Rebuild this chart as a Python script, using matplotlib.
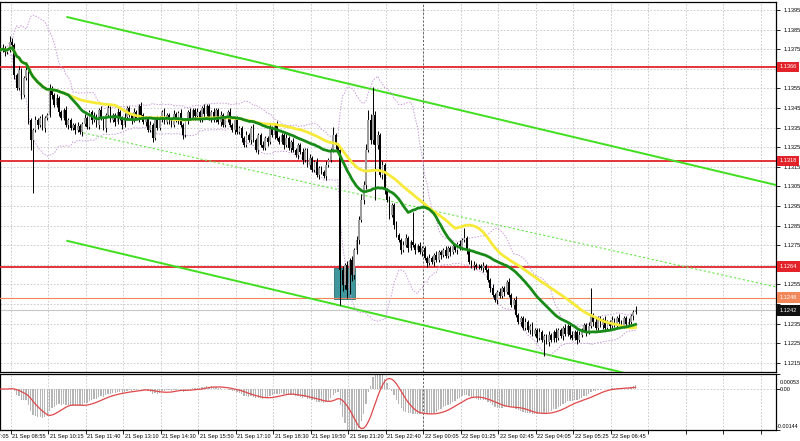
import matplotlib.pyplot as plt
import matplotlib.transforms as mtransforms
from matplotlib.patches import Rectangle
import numpy as np
import pandas as pd

plt.rcParams["font.family"] = ["Liberation Sans", "DejaVu Sans"]

# M5 closes
close = [
    1.13746, 1.13756, 1.13736, 1.13746, 1.13787, 1.13772, 1.13619, 1.13552, 1.13644, 1.13517, 1.13603, 1.13644, 1.13389, 1.13287, 1.13338, 1.13389,
    1.13364, 1.13399, 1.13348, 1.13399, 1.13415, 1.13552, 1.13517, 1.13466, 1.13501, 1.13430, 1.13399, 1.13440, 1.13364, 1.13389, 1.13348, 1.13364,
    1.13338, 1.13358, 1.13328, 1.13369, 1.13399, 1.13353, 1.13430, 1.13389, 1.13409, 1.13364, 1.13440, 1.13399, 1.13348, 1.13415, 1.13450, 1.13389,
    1.13415, 1.13379, 1.13430, 1.13399, 1.13364, 1.13405, 1.13450, 1.13415, 1.13389, 1.13430, 1.13399, 1.13460, 1.13415, 1.13379, 1.13399, 1.13338,
    1.13364, 1.13297, 1.13389, 1.13348, 1.13399, 1.13430, 1.13379, 1.13415, 1.13389, 1.13364, 1.13420, 1.13389, 1.13425, 1.13364, 1.13313, 1.13389,
    1.13430, 1.13399, 1.13440, 1.13409, 1.13430, 1.13389, 1.13450, 1.13420, 1.13460, 1.13399, 1.13430, 1.13389, 1.13440, 1.13379, 1.13415, 1.13364,
    1.13399, 1.13430, 1.13364, 1.13338, 1.13389, 1.13328, 1.13348, 1.13297, 1.13262, 1.13313, 1.13287, 1.13348, 1.13287, 1.13236, 1.13313, 1.13262,
    1.13246, 1.13297, 1.13277, 1.13348, 1.13313, 1.13364, 1.13297, 1.13277, 1.13313, 1.13262, 1.13297, 1.13246, 1.13277, 1.13236, 1.13211, 1.13262,
    1.13226, 1.13185, 1.13236, 1.13160, 1.13195, 1.13134, 1.13175, 1.13109, 1.13144, 1.13124, 1.13103, 1.13160, 1.13185, 1.13236, 1.13313, 1.13262,
    1.13236, 1.12624, 1.12548, 1.12650, 1.12522, 1.12675, 1.12599, 1.12726, 1.12777, 1.12879, 1.12981, 1.13058, 1.13236, 1.13389, 1.13287, 1.13415,
    1.13262, 1.13313, 1.13109, 1.13160, 1.13032, 1.12981, 1.12905, 1.12956, 1.12853, 1.12803, 1.12777, 1.12726, 1.12752, 1.12787, 1.12736, 1.12767,
    1.12752, 1.12726, 1.12746, 1.12716, 1.12736, 1.12685, 1.12660, 1.12685, 1.12665, 1.12701, 1.12675, 1.12716, 1.12701, 1.12726, 1.12695, 1.12736,
    1.12716, 1.12746, 1.12726, 1.12757, 1.12736, 1.12777, 1.12787, 1.12726, 1.12665, 1.12644, 1.12650, 1.12639, 1.12644, 1.12634, 1.12644, 1.12624,
    1.12573, 1.12532, 1.12496, 1.12471, 1.12512, 1.12491, 1.12532, 1.12512, 1.12563, 1.12496, 1.12445, 1.12471, 1.12394, 1.12359, 1.12379, 1.12328,
    1.12359, 1.12318, 1.12338, 1.12298, 1.12318, 1.12277, 1.12308, 1.12267, 1.12287, 1.12257, 1.12293, 1.12267, 1.12308, 1.12277, 1.12318, 1.12287,
    1.12328, 1.12298, 1.12338, 1.12293, 1.12277, 1.12308, 1.12267, 1.12293, 1.12318, 1.12344, 1.12308, 1.12338, 1.12394, 1.12359, 1.12328, 1.12379,
    1.12344, 1.12369, 1.12328, 1.12359, 1.12338, 1.12369, 1.12344, 1.12379, 1.12359, 1.12338, 1.12379, 1.12349, 1.12359, 1.12389, 1.12410, 1.12420,
]
first_open = 1.13740

# wick lengths in pips above / below the body
wick_up = [
    1, 2, 1, 1, 3, 2, 1, 1, 2, 1, 1, 2, 1, 1, 1, 2,
    1, 1, 2, 1, 1, 2, 1, 1, 2, 1, 1, 1, 2, 1, 1, 1,
    1, 2, 1, 1, 2, 1, 1, 1, 2, 1, 1, 2, 1, 1, 2, 1,
    1, 1, 2, 1, 1, 2, 1, 1, 1, 2, 1, 1, 2, 1, 1, 1,
    2, 1, 1, 2, 1, 1, 2, 1, 1, 1, 2, 1, 1, 2, 1, 1,
    1, 2, 1, 1, 2, 1, 1, 2, 1, 1, 1, 2, 1, 1, 2, 1,
    1, 1, 2, 1, 1, 2, 1, 1, 1, 2, 1, 1, 2, 1, 1, 1,
    2, 1, 1, 2, 1, 1, 2, 1, 1, 1, 2, 1, 1, 2, 1, 1,
    1, 2, 1, 1, 2, 1, 1, 2, 1, 1, 1, 2, 1, 1, 4, 1,
    1, 2, 2, 1, 2, 1, 2, 1, 2, 2, 3, 2, 3, 5, 3, 14,
    2, 2, 1, 2, 1, 1, 2, 1, 1, 2, 1, 1, 2, 2, 1, 1,
    15, 1, 1, 2, 1, 1, 1, 2, 1, 1, 2, 1, 1, 1, 2, 1,
    1, 2, 1, 1, 2, 1, 5, 1, 1, 1, 2, 1, 1, 1, 2, 1,
    1, 1, 2, 1, 1, 2, 1, 1, 1, 2, 1, 1, 2, 1, 1, 1,
    2, 1, 1, 2, 1, 1, 2, 1, 1, 1, 2, 1, 1, 2, 1, 1,
    1, 2, 1, 1, 2, 1, 1, 2, 1, 1, 1, 2, 14, 1, 2, 1,
    1, 1, 2, 1, 1, 2, 1, 1, 2, 1, 1, 1, 2, 1, 1, 2,
]
wick_dn = [
    1, 1, 2, 1, 1, 1, 2, 1, 1, 2, 1, 1, 2, 5, 27, 1,
    2, 1, 1, 2, 1, 1, 2, 1, 1, 2, 1, 1, 1, 2, 1, 1,
    2, 1, 1, 2, 1, 1, 1, 2, 1, 1, 2, 1, 1, 2, 1, 1,
    1, 2, 1, 1, 2, 1, 1, 1, 2, 1, 1, 2, 1, 1, 2, 1,
    1, 2, 1, 1, 1, 2, 1, 1, 2, 1, 1, 1, 2, 1, 2, 1,
    2, 1, 1, 2, 1, 1, 1, 2, 1, 1, 2, 1, 1, 1, 2, 1,
    1, 2, 1, 1, 2, 1, 1, 2, 1, 1, 1, 2, 1, 1, 2, 1,
    1, 1, 2, 1, 1, 2, 1, 1, 1, 2, 1, 1, 2, 1, 1, 2,
    1, 2, 1, 1, 2, 1, 1, 1, 2, 1, 1, 2, 1, 1, 1, 2,
    1, 18, 3, 2, 4, 2, 3, 2, 2, 2, 1, 2, 2, 1, 2, 2,
    28, 2, 1, 2, 2, 1, 2, 1, 2, 1, 1, 2, 1, 1, 2, 1,
    1, 2, 1, 1, 2, 1, 2, 1, 1, 2, 1, 1, 2, 1, 1, 1,
    2, 1, 1, 2, 1, 1, 1, 2, 1, 1, 2, 1, 1, 1, 2, 1,
    1, 2, 1, 1, 2, 1, 1, 2, 1, 1, 1, 2, 1, 1, 2, 1,
    1, 1, 2, 1, 1, 2, 1, 1, 8, 1, 2, 1, 1, 2, 1, 1,
    2, 1, 1, 2, 1, 1, 2, 1, 1, 1, 2, 1, 1, 2, 1, 1,
    1, 2, 1, 1, 2, 1, 1, 2, 1, 1, 1, 2, 1, 1, 2, 1,
]

time_labels = ["21 Sep 07:05", "21 Sep 08:55", "21 Sep 10:15", "21 Sep 11:40", "21 Sep 13:10",
               "21 Sep 14:30", "21 Sep 15:50", "21 Sep 17:10", "21 Sep 18:30", "21 Sep 19:50",
               "21 Sep 21:20", "21 Sep 22:40", "22 Sep 00:05", "22 Sep 01:25", "22 Sep 02:45",
               "22 Sep 04:05", "22 Sep 05:25", "22 Sep 06:45"]

red_levels = [1.1366, 1.1318, 1.1264]
orange_level = 1.1248
last_price = 1.1242
macd_max, macd_min = 0.00053, -0.00144

# channel drawn on the chart (bar index, price)
chan_x = [28.6, 331.0]
chan_upper = [1.13914, 1.13057]
chan_lower = [1.12772, 1.11915]
mid_x = [35.4, 331.0]
mid_line = [1.13323, 1.12537]
box_x = [142.5, 151.5]
box_y = [1.12476, 1.12634]

df = pd.DataFrame({"close": close, "up": wick_up, "dn": wick_dn})
df["open"] = df["close"].shift(1).fillna(first_open)
pip = 0.0001
df["high"] = df[["open", "close"]].max(axis=1) + df["up"] * pip
df["low"] = df[["open", "close"]].min(axis=1) - df["dn"] * pip
idx = np.arange(len(df))

ma30 = df["close"].rolling(30, min_periods=1).mean()
ma50 = df["close"].rolling(50, min_periods=1).mean()
bb_mid = df["close"].rolling(20, min_periods=3).mean()
bb_sd = df["close"].rolling(20, min_periods=3).std(ddof=0)
macd = df["close"].ewm(span=12, adjust=False).mean() - df["close"].ewm(span=26, adjust=False).mean()
signal = macd.rolling(9, min_periods=1).mean()

W, H = 800, 441
fig = plt.figure(figsize=(8, 4.41), dpi=100)
right = 775.5 / W
ax = fig.add_axes([0, 1 - 372 / H, right, 370 / H])
ax2 = fig.add_axes([0, 1 - 430 / H, right, 56 / H])

xlim = (-0.13, 330.7)
grid_pos = np.arange(4.5, 331, 16)
gcol = "#c4c4c4"
fs = 4.1

# main panel
ax.set_xlim(*xlim)
ax.set_ylim(1.12103, 1.13991)
ax.set_axisbelow(True)
ax.set_xticks(grid_pos)
ax.tick_params(axis="x", length=0, labelbottom=False)
price_ticks = np.round(np.arange(1.1215, 1.1396, 0.001), 4)
hidden = [1.1365, 1.1265, 1.1245]
ax.yaxis.tick_right()
ax.set_yticks(price_ticks)
ax.set_yticklabels(["" if p in hidden else f"{p:.4f}" for p in price_ticks])
ax.tick_params(axis="y", direction="out", length=3, width=0.6, labelsize=fs, pad=2.5)
ax.grid(True, color=gcol, ls=(0, (2, 2)), lw=0.6)
for s in ax.spines.values():
    s.set_linewidth(0.9)

ax.add_patch(Rectangle((box_x[0], box_y[0]), box_x[1] - box_x[0], box_y[1] - box_y[0],
                       fc="#3f979d", ec="#2c6f74", lw=0.6, zorder=2))

for lv in red_levels:
    ax.axhline(lv, color="#e3232a", lw=1.3, zorder=3)
ax.axhline(orange_level, color="#f2875a", lw=0.8, zorder=3)
ax.axhline(last_price, color="#c8c8c8", lw=0.8, zorder=2)

ax.plot(chan_x, chan_upper, color="#3fdf1e", lw=1.4, zorder=3)
ax.plot(chan_x, chan_lower, color="#3fdf1e", lw=1.4, zorder=3)
ax.plot(mid_x, mid_line, color="#66e84a", lw=0.8, ls=(0, (2, 2)), zorder=3)

ax.plot(idx, bb_mid + 2 * bb_sd, color="#c89bd8", lw=0.7, ls=(0, (1.5, 1.5)), zorder=3)
ax.plot(idx, bb_mid - 2 * bb_sd, color="#c89bd8", lw=0.7, ls=(0, (1.5, 1.5)), zorder=3)

o = df["open"].values
c = df["close"].values
ax.vlines(idx, df["low"], df["high"], color="black", lw=0.7, zorder=4)
body_col = np.where(c >= o, "#9c9c9c", "#000000")
ax.bar(idx, np.maximum(np.abs(c - o), 0.00003), bottom=np.minimum(o, c), width=0.75,
       color=body_col, edgecolor="none", zorder=5)

ax.plot(idx, ma50, color="#f7ea38", lw=2.0, zorder=6)
ax.plot(idx, ma30, color="#178a17", lw=2.0, zorder=6)

bt = mtransforms.blended_transform_factory(ax.transAxes, ax.transData)
box = dict(boxstyle="square,pad=0.5", ec="none")
for lv in red_levels:
    ax.text(1.005, lv, f"{lv:.4f}", transform=bt, color="white", fontsize=fs, va="center", ha="left",
            bbox=dict(box, fc="#e3232a"), clip_on=False, zorder=10)
ax.text(1.005, orange_level + 0.00003, f"{orange_level:.4f}", transform=bt, color="white", fontsize=fs,
        va="center", ha="left", bbox=dict(box, fc="#f2875a"), clip_on=False, zorder=10)
ax.text(1.005, last_price - 0.00003, f"{last_price:.4f}", transform=bt, color="white", fontsize=fs,
        va="center", ha="left", bbox=dict(box, fc="#111111"), clip_on=False, zorder=11)

# MACD panel
ax2.set_xlim(*xlim)
ax2.set_ylim(macd_min, macd_max)
ax2.set_axisbelow(True)
ax2.set_xticks(grid_pos)
ax2.tick_params(axis="x", direction="out", length=3, width=0.6, labelbottom=False)
ax2.yaxis.tick_right()
ax2.set_yticks([macd_max, 0.0, macd_min])
ax2.set_yticklabels([])
ax2.tick_params(axis="y", direction="out", length=3, width=0.6)
ax2.grid(True, axis="x", color=gcol, ls=(0, (2, 2)), lw=0.6)
ax2.axhline(0, color=gcol, ls=(0, (2, 2)), lw=0.6, zorder=0)
for s in ax2.spines.values():
    s.set_linewidth(0.9)
ax2.bar(idx, macd, width=0.55, color="#b5b5b5", zorder=2)
ax2.plot(idx, signal, color="#e0484a", lw=0.9, zorder=3)

bt2 = mtransforms.blended_transform_factory(ax2.transAxes, ax2.transData)
for val, txt, dy, x0 in [(macd_max, "0.00053", -6.0, 1.005), (0.0, "0.00", 0.0, 1.005),
                         (macd_min, "-0.00144", 2.5, 1.001)]:
    tr = mtransforms.offset_copy(bt2, fig=fig, x=0, y=dy, units="points")
    ax2.text(x0, val, txt, transform=tr, fontsize=3.9, va="center", ha="left", clip_on=False)

for a in (ax, ax2):
    a.axvline(grid_pos[11], color="#606060", lw=0.7, ls=(0, (2, 2)), zorder=1)

tb = mtransforms.blended_transform_factory(ax2.transData, ax2.transAxes)
label_pos = np.arange(-11.5, 331, 16)
for pos, lab in zip(label_pos, time_labels):
    ax2.text(pos + 0.6, -0.07, lab, transform=tb, fontsize=fs, va="top", ha="left", clip_on=False)

fig.savefig("out.png", dpi=100)
